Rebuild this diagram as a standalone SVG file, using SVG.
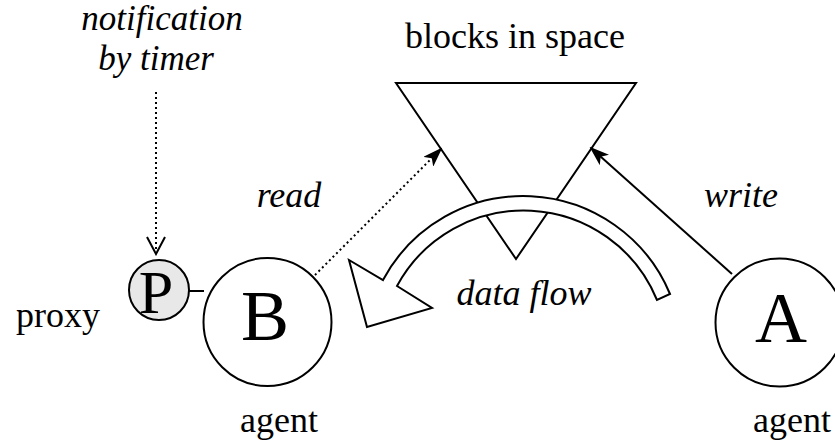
<svg xmlns="http://www.w3.org/2000/svg" width="835" height="440" viewBox="0 0 835 440">
<style>
text{font-family:"Liberation Serif","Times New Roman",serif;fill:#000;text-anchor:middle}
.it{font-style:italic;font-size:36px}
.nt{font-style:italic;font-size:35px}
.rm{font-size:36px}
.big{font-size:72px}
.shape{fill:#fff;stroke:#000;stroke-width:2}
.conn{fill:none;stroke:#000;stroke-width:2}
.dot{stroke-dasharray:2 3}
</style>
<defs>
<marker id="stealth" viewBox="0 0 20 14" refX="18" refY="7" markerWidth="20" markerHeight="14" markerUnits="userSpaceOnUse" orient="auto">
<path d="M0,0 L20,7 L0,14 L5,7 Z" fill="#000"/>
</marker>
<marker id="vee" viewBox="0 0 20 20" refX="18" refY="10" markerWidth="20" markerHeight="20" markerUnits="userSpaceOnUse" orient="auto">
<path d="M1,1 L18,10 L1,19" fill="none" stroke="#000" stroke-width="2"/>
</marker>
</defs>
<text class="nt" x="162" y="30">notification</text>
<text class="nt" x="156" y="70">by timer</text>
<text class="rm" x="515" y="48">blocks in space</text>
<g id="blocks"><polygon class="shape" points="396,83 636,83 516,259"/></g>
<g id="dataflow">
<path class="shape" d="M670,294 A159,159 0 0 0 383,280 L349,260 L367,327 L432,308 L397,286 A144,144 0 0 1 657,300 Z"/>
<text class="it" x="524" y="305">data flow</text>
</g>
<g id="connectors">
<line class="conn dot" x1="156" y1="92" x2="156" y2="254" marker-end="url(#vee)"/>
<line class="conn" x1="188" y1="291" x2="204" y2="291"/>
<line class="conn dot" x1="315" y1="275" x2="441" y2="149" marker-end="url(#stealth)"/>
<line class="conn" x1="732" y1="274" x2="591" y2="148" marker-end="url(#stealth)"/>
</g>
<text class="it" x="289" y="207">read</text>
<text class="it" x="741" y="207">write</text>
<g id="proxy">
<circle cx="159" cy="290" r="30" fill="#e8e8e8" stroke="#000" stroke-width="2"/>
<text x="156" y="313" style="font-size:62px">P</text>
<text class="rm" x="58" y="327">proxy</text>
</g>
<g id="agentB">
<circle class="shape" cx="267.5" cy="322" r="64"/>
<text class="big" x="265" y="340">B</text>
<text class="rm" x="279" y="432">agent</text>
</g>
<g id="agentA">
<circle class="shape" cx="779.5" cy="322.5" r="64"/>
<text class="big" x="781" y="342">A</text>
<text class="rm" x="792" y="432">agent</text>
</g>
</svg>
